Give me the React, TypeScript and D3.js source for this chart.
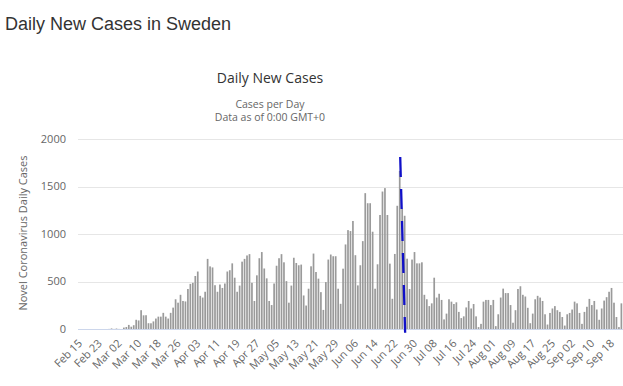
import React, { useEffect, useRef } from 'react';
import * as d3 from 'd3';

// first day of the series, one value per day after it
const startDate = new Date(Date.UTC(2020, 1, 15));

const dailyCases = [
  0, 0, 0, 0, 0, 0, 0, 0, 0, 0, 0, 1, 6, 1, 5, 1, 0,
  15, 21, 43, 24, 40, 97, 90, 198, 144, 145, 61, 60, 80, 110, 130, 130, 170, 130, 110,
  170, 225, 313, 277, 360, 295, 290, 421, 475, 486, 558, 605, 349, 331, 392, 738, 659,
  648, 461, 392, 468, 432, 479, 605, 619, 691, 540, 392, 457, 709, 738, 774, 788, 486,
  295, 565, 745, 810, 637, 533, 295, 252, 479, 666, 745, 788, 702, 504, 277, 457, 750,
  695, 671, 678, 353, 247, 424, 660, 794, 600, 530, 388, 201, 494, 731, 784, 766, 766,
  424, 265, 635, 890, 1041, 1031, 1137, 777, 459, 671, 925, 1430, 1324, 1324, 1024, 424,
  681, 1200, 1447, 1483, 1200, 688, 318, 790, 1297, 1664, 1265, 1192, 740, 421, 731, 810,
  691, 691, 702, 360, 313, 241, 270, 540, 331, 371, 306, 101, 162, 313, 288, 263, 281,
  180, 115, 133, 227, 295, 216, 263, 133, 20, 54, 288, 306, 306, 252, 306, 30, 155, 331,
  425, 378, 378, 252, 66, 198, 421, 450, 360, 342, 223, 61, 162, 313, 349, 331, 295, 155,
  47, 169, 216, 241, 198, 180, 126, 36, 155, 169, 205, 288, 270, 169, 54, 180, 234, 317,
  252, 295, 205, 97, 216, 299, 335, 392, 432, 277, 126, 20, 270
];

const yTicks = [0, 500, 1000, 1500, 2000];
const labelEvery = 8;
const lastLabelDay = 216;

// dashed marker line: [day, value] at top and bottom
const markerDays = [129.2, 131.2];
const markerValues = [1810, -40];

const W = 623;
const H = 386;

export default function App() {
  const ref = useRef<SVGSVGElement>(null);

  useEffect(() => {
    const svg = d3.select(ref.current);
    svg.selectAll('*').remove();

    const x = d3.scaleLinear().domain([0, lastLabelDay]).range([82, 614]);
    const y = d3.scaleLinear().domain([0, 2000]).range([329, 139]);

    svg.append('text')
      .attr('x', 5)
      .attr('y', 30)
      .attr('fill', '#333')
      .style('font-family', "'Liberation Sans', Arial, sans-serif")
      .style('font-size', '18px')
      .text('Daily New Cases in Sweden');

    const hc = "'Open Sans', 'DejaVu Sans', sans-serif";

    svg.append('text')
      .attr('x', 270)
      .attr('y', 83)
      .attr('text-anchor', 'middle')
      .attr('fill', '#333')
      .style('font-family', hc)
      .style('font-size', '14px')
      .text('Daily New Cases');

    svg.append('text')
      .attr('x', 270)
      .attr('y', 108)
      .attr('text-anchor', 'middle')
      .attr('fill', '#666')
      .style('font-family', hc)
      .style('font-size', '10.5px')
      .text('Cases per Day');

    svg.append('text')
      .attr('x', 270)
      .attr('y', 121)
      .attr('text-anchor', 'middle')
      .attr('fill', '#666')
      .style('font-family', hc)
      .style('font-size', '10.5px')
      .text('Data as of 0:00 GMT+0');

    // gridlines + y labels
    svg.append('g').selectAll('line')
      .data(yTicks.filter(t => t > 0))
      .enter()
        .append('line')
        .attr('x1', 78).attr('x2', W)
        .attr('y1', d => Math.round(y(d)) + 0.5)
        .attr('y2', d => Math.round(y(d)) + 0.5)
        .attr('stroke', '#e6e6e6');

    svg.append('g').selectAll('text')
      .data(yTicks)
      .enter()
        .append('text')
        .attr('x', 66)
        .attr('y', d => y(d))
        .attr('dy', '0.35em')
        .attr('text-anchor', 'end')
        .attr('fill', '#666')
        .style('font-family', hc)
        .style('font-size', '11px')
        .text(d => d);

    svg.append('text')
      .attr('transform', 'translate(27,233) rotate(-90)')
      .attr('text-anchor', 'middle')
      .attr('fill', '#666')
      .style('font-family', hc)
      .style('font-size', '11px')
      .text('Novel Coronavirus Daily Cases');

    // bars
    svg.append('g').selectAll('rect')
      .data(dailyCases)
      .enter()
        .append('rect')
        .attr('x', (d, i) => x(i) - 0.85)
        .attr('width', 1.7)
        .attr('y', d => y(d))
        .attr('height', d => y(0) - y(d))
        .attr('fill', '#9a9a9a');

    svg.append('line')
      .attr('x1', 78).attr('x2', W)
      .attr('y1', 329.5).attr('y2', 329.5)
      .attr('stroke', '#ccd6eb');

    // x labels
    const fmt = d3.utcFormat('%b %d');
    const days = d3.range(0, lastLabelDay + 1, labelEvery);
    svg.append('g').selectAll('text')
      .data(days)
      .enter()
        .append('text')
        .attr('transform', d => `translate(${x(d) + 1},344) rotate(-45)`)
        .attr('text-anchor', 'end')
        .attr('fill', '#666')
        .style('font-family', hc)
        .style('font-size', '11px')
        .text(d => fmt(d3.utcDay.offset(startDate, d)));

    // blue dashed marker
    svg.append('line')
      .attr('x1', x(markerDays[0])).attr('y1', y(markerValues[0]))
      .attr('x2', x(markerDays[1])).attr('y2', y(markerValues[1]))
      .attr('stroke', '#1010c8')
      .attr('stroke-width', 2.3)
      .attr('stroke-dasharray', '20,12');
  }, []);

  return (
    <svg ref={ref} width={W} height={H}
      style={{ position: 'absolute', left: 0, top: 0, background: '#fff' }} />
  );
}
